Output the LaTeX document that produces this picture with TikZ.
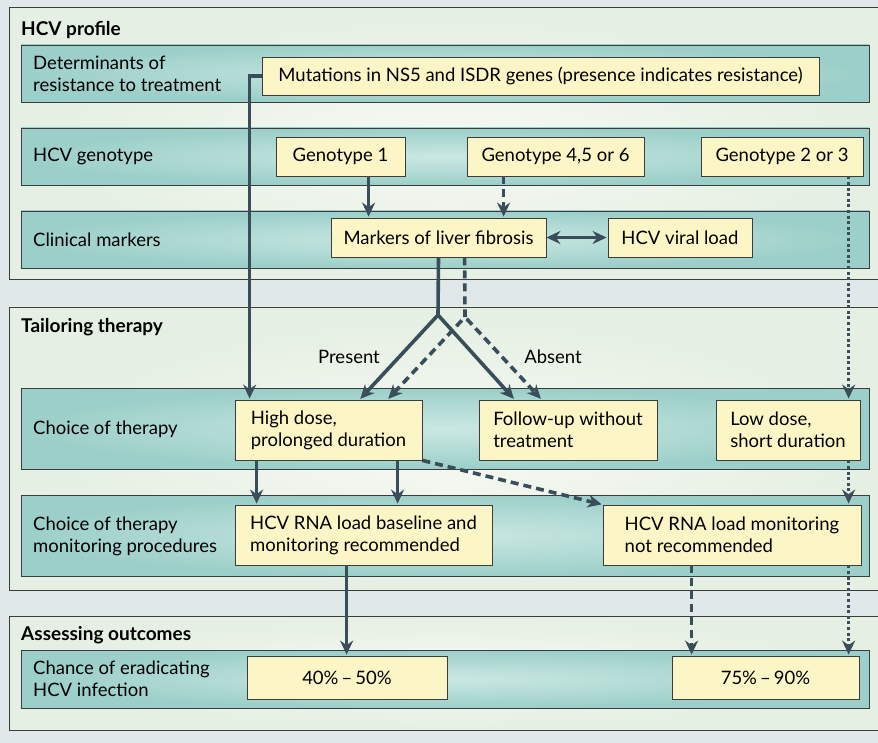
\documentclass[tikz,border=0pt]{standalone}
\usepackage{fontspec}
\setmainfont{Lato}
\usetikzlibrary{arrows.meta}
\definecolor{bgcol}{HTML}{E1E8EA}
\definecolor{panelmid}{HTML}{F6F9F3}
\definecolor{paneledge}{HTML}{E5EFE3}
\definecolor{bandmid}{HTML}{CBE8E3}
\definecolor{bandedge}{HTML}{9CCFC9}
\definecolor{boxfill}{HTML}{FCF6C6}
\definecolor{linegrey}{HTML}{3C3C3C}
\definecolor{arrowcol}{HTML}{3A4D5A}
\newcommand\txtsize{\fontsize{18.5}{22}\selectfont}
\begin{document}
\begin{tikzpicture}[x=1pt,y=-1pt,
  panel/.style={draw=linegrey,line width=0.8pt,inner color=panelmid,outer color=paneledge},
  band/.style={draw=linegrey,line width=0.8pt,inner color=bandmid,outer color=bandedge},
  box/.style={draw=linegrey,line width=0.8pt,fill=boxfill,align=left,inner sep=0pt,font=\txtsize},
  lbl/.style={anchor=west,align=left,inner sep=0pt,font=\txtsize},
  head/.style={anchor=west,inner sep=0pt,font=\fontsize{19}{22}\selectfont\bfseries},
  tip/.style={-{Stealth[length=14pt,width=13pt]}},
  flow/.style={draw=arrowcol,line width=3.6pt,tip,shorten >=1pt},
  dflow/.style={flow,dash pattern=on 8pt off 5pt},
  pflow/.style={flow,dash pattern=on 3pt off 2.6pt}]
\clip (0,0) rectangle (878,743);
\fill[bgcol] (0,0) rectangle (878,743);
\shadedraw[panel] (9,7) rectangle (890,279);
\shadedraw[panel] (9,307) rectangle (890,590);
\shadedraw[panel] (9,616) rectangle (890,730);
\shadedraw[band] (21,45) rectangle (869,102);
\shadedraw[band] (21,128) rectangle (869,185);
\shadedraw[band] (21,211) rectangle (869,268);
\shadedraw[band] (21,388) rectangle (869,469);
\shadedraw[band] (21,495) rectangle (869,576);
\shadedraw[band] (21,650) rectangle (869,708);

\node[head] (hprofile) at (21,30) {HCV profile};
\node[head] (htailor) at (21,327) {Tailoring therapy};
\node[head] (hout) at (21,635) {Assessing outcomes};

\node[lbl] (ldet) at (33,74) {Determinants of\\resistance to treatment};
\node[lbl] (lgen) at (33,156.5) {HCV genotype};
\node[lbl] (lclin) at (33,239.5) {Clinical markers};
\node[lbl] (lchoice) at (33,429) {Choice of therapy};
\node[lbl] (lmon) at (33,536) {Choice of therapy\\monitoring procedures};
\node[lbl] (lchance) at (33,679) {Chance of eradicating\\HCV infection};

\node[box,minimum width=557pt,minimum height=38pt] (mut) at (540.5,76) {Mutations in NS5 and ISDR genes (presence indicates resistance)};
\node[box,minimum width=129pt,minimum height=39pt] (g1) at (340.5,156.5) {Genotype 1};
\node[box,minimum width=177pt,minimum height=39pt] (g456) at (555.5,156.5) {Genotype 4,5 or 6};
\node[box,minimum width=162pt,minimum height=39pt] (g23) at (782,156.5) {Genotype 2 or 3};
\node[box,minimum width=215pt,minimum height=39pt] (fib) at (438.5,237.5) {Markers of liver fibrosis};
\node[box,minimum width=144pt,minimum height=39pt] (vload) at (680,237.5) {HCV viral load};
\node[box,minimum width=187pt,minimum height=60pt] (high) at (328.5,430) {High dose,\\prolonged duration};
\node[box,minimum width=178pt,minimum height=60pt] (follow) at (568,430) {Follow-up without\\treatment};
\node[box,minimum width=144pt,minimum height=60pt] (low) at (788,430) {Low dose,\\short duration};
\node[box,minimum width=257pt,minimum height=60pt] (base) at (363.5,535) {HCV RNA load baseline and\\monitoring recommended};
\node[box,minimum width=258pt,minimum height=60pt] (notrec) at (732,535) {HCV RNA load monitoring\\not recommended};
\node[box,minimum width=200pt,minimum height=43pt] (lowrate) at (347,677.5) {40\%\,–\,50\%};
\node[box,minimum width=187pt,minimum height=43pt] (highrate) at (765.5,677.5) {75\%\,–\,90\%};

\node[font=\txtsize,inner sep=0pt] (present) at (349,357) {Present};
\node[font=\txtsize,inner sep=0pt] (absent) at (553,357) {Absent};

\coordinate (fork) at (438,315);
\coordinate (dfork) at (465,317);
\draw[flow] (mut.west) -| ([xshift=15pt]high.north west);
\draw[flow] ([xshift=93pt]g1.south west) -- ([xshift=38pt]fib.north west);
\draw[dflow] ([xshift=37pt]g456.south west) -- ([xshift=173pt]fib.north west);
\draw[flow,{Stealth[length=14pt,width=13pt]}-{Stealth[length=14pt,width=13pt]}] (fib.east) -- (vload.west);
\draw[pflow] ([xshift=148pt]g23.south west) -- ([xshift=133pt]low.north west);
\draw[arrowcol,line width=3.6pt] (fib.south) -- (fork);
\draw[flow] (fork) -- ([xshift=125pt]high.north west);
\draw[flow] (fork) -- ([xshift=36pt]follow.north west);
\draw[arrowcol,line width=3.6pt,dash pattern=on 8pt off 5pt] ([xshift=134pt]fib.south west) -- (dfork);
\draw[dflow,rounded corners=4pt,{Stealth[length=14pt,width=13pt]}-{Stealth[length=14pt,width=13pt]},shorten <=1pt] ([xshift=153pt]high.north west) -- (dfork) -- ([xshift=63pt]follow.north west);
\draw[flow] ([xshift=22pt]high.south west) -- ([xshift=22pt]base.north west);
\draw[flow] ([xshift=163pt]high.south west) -- ([xshift=163pt]base.north west);
\draw[dflow] (high.south east) -- (notrec.north west);
\draw[pflow] ([xshift=133pt]low.south west) -- ([xshift=246pt]notrec.north west);
\draw[flow] ([xshift=112pt]base.south west) -- ([xshift=100pt]lowrate.north west);
\draw[dflow] ([xshift=89pt]notrec.south west) -- ([xshift=20pt]highrate.north west);
\draw[pflow] ([xshift=246pt]notrec.south west) -- ([xshift=177pt]highrate.north west);
\end{tikzpicture}
\end{document}
